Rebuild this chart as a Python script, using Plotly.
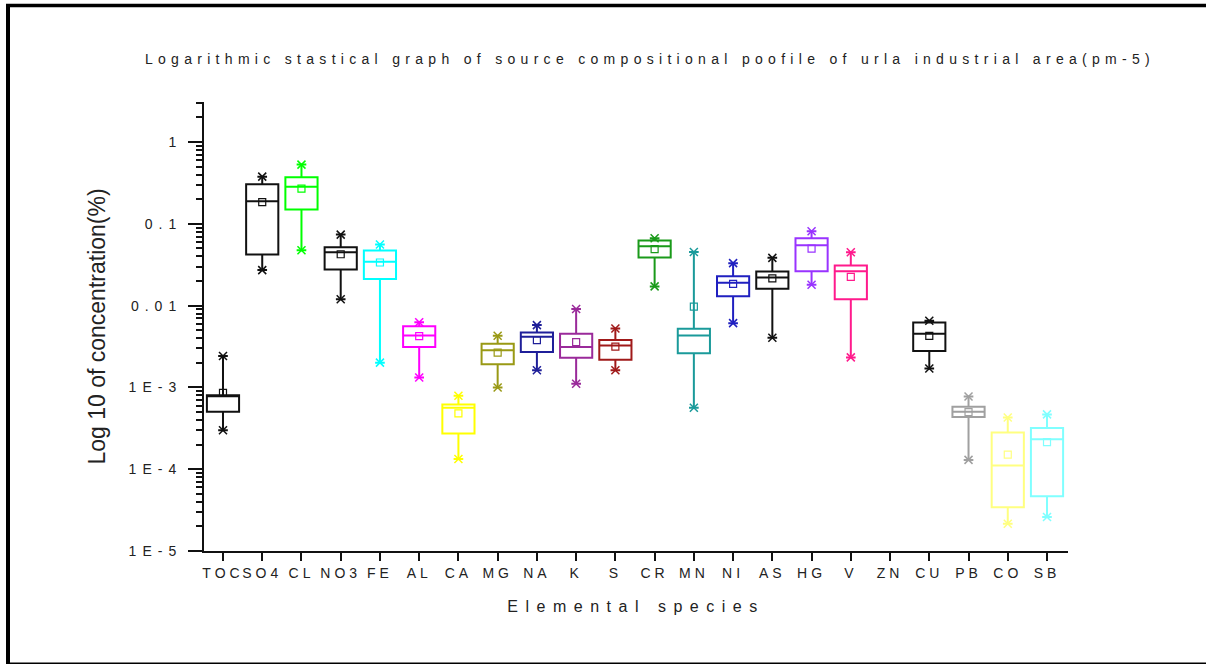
import plotly.graph_objects as go

# ---------------- data ----------------
categories = ["TOC", "SO4", "CL", "NO3", "FE", "AL", "CA", "MG", "NA", "K", "S",
              "CR", "MN", "NI", "AS", "HG", "V", "ZN", "CU", "PB", "CO", "SB"]
tick_labels = ["TOC", "SO4", "CL", "NO3", "FE", "AL", "CA", "MG", "NA", "K", "S",
               "CR", "MN", "NI", "AS", "HG", "V", "ZN", "CU", "PB", "CO", "SB"]

upper = [2.42e-3, 0.378, 0.530, 0.0739, 0.0558, 6.28e-3, 7.9e-4, 4.28e-3, 5.78e-3, 9.12e-3, 5.25e-3,
         0.0667, 0.0454, 0.0331, 0.0384, 0.0810, 0.0450, None, 6.52e-3, 7.75e-4, 4.30e-4, 4.68e-4]
q3 = [8.0e-4, 0.305, 0.371, 0.0518, 0.0472, 5.61e-3, 6.19e-4, 3.42e-3, 4.70e-3, 4.53e-3, 3.79e-3,
      0.0625, 5.21e-3, 0.0228, 0.0262, 0.0667, 0.0310, None, 6.21e-3, 5.81e-4, 2.81e-4, 3.19e-4]
median = [8.0e-4, 0.189, 0.284, 0.0450, 0.0343, 4.31e-3, 5.65e-4, 2.84e-3, 4.16e-3, 3.12e-3, 3.26e-3,
          0.0533, 4.31e-3, 0.0191, 0.0221, 0.0548, 0.0264, None, 4.53e-3, 5.05e-4, 1.11e-4, 2.32e-4]
mean = [8.6e-4, 0.184, 0.270, 0.0425, 0.0337, 4.24e-3, 4.81e-4, 2.66e-3, 3.79e-3, 3.59e-3, 3.15e-3,
        0.0490, 9.72e-3, 0.0185, 0.0215, 0.0499, 0.0225, None, 4.28e-3, 4.99e-4, 1.51e-4, 2.15e-4]
q1 = [5.05e-4, 0.0422, 0.150, 0.0277, 0.0211, 3.12e-3, 2.73e-4, 1.92e-3, 2.71e-3, 2.31e-3, 2.18e-3,
      0.0388, 2.61e-3, 0.0130, 0.0161, 0.0264, 0.0120, None, 2.79e-3, 4.34e-4, 3.43e-5, 4.67e-5]
lower = [3.0e-4, 0.0272, 0.0476, 0.0120, 2.01e-3, 1.32e-3, 1.33e-4, 1.00e-3, 1.62e-3, 1.11e-3, 1.62e-3,
         0.0172, 5.65e-4, 6.11e-3, 4.05e-3, 0.0180, 2.33e-3, None, 1.70e-3, 1.30e-4, 2.15e-5, 2.61e-5]

colors = ["#111111", "#111111", "#00ff00", "#111111", "#00ffff", "#ff00ff", "#ffff00", "#999915",
          "#1f1f99", "#9a2a9a", "#a01a1a", "#1a9a1a", "#1a9a9a", "#2020c0", "#111111", "#9933ff",
          "#ff1a8c", "#111111", "#111111", "#a0a0a0", "#ffff80", "#80ffff"]

y_tickvals = [1e-5, 1e-4, 1e-3, 1e-2, 1e-1, 1]
y_ticktext = ["1E-5", "1E-4", "1E-3", "0.01", "0.1", "1"]

# ---------------- layout geometry ----------------
W, H = 1206, 664
L, R, T, B = 204, 138, 102, 113
PW, PH = W - L - R, H - T - B


def px(x):
    return (x - L) / PW


def py(y):
    return (H - B - y) / PH


FONT = "Liberation Sans, Arial, sans-serif"

fig = go.Figure()

for i, c in enumerate(categories):
    if q1[i] is None:
        continue
    col = colors[i]
    fig.add_trace(go.Box(
        x=[c], q1=[q1[i]], median=[median[i]], q3=[q3[i]],
        lowerfence=[lower[i]], upperfence=[upper[i]],
        line=dict(color=col, width=2), fillcolor="rgba(0,0,0,0)",
        whiskerwidth=0.3, width=0.82, showlegend=False, hoverinfo="skip",
        boxpoints=False,
    ))
    fig.add_trace(go.Scatter(
        x=[c, c], y=[lower[i], upper[i]], mode="markers",
        marker=dict(symbol="x-thin", size=8, line=dict(color=col, width=1.5), color=col),
        showlegend=False, hoverinfo="skip",
    ))
    fig.add_trace(go.Scatter(
        x=[c], y=[mean[i]], mode="markers",
        marker=dict(symbol="square-open", size=7, line=dict(color=col, width=1.2), color=col),
        showlegend=False, hoverinfo="skip",
    ))

minor_vals = [m * 10 ** e for e in range(-5, 1) for m in range(2, 10)]

fig.update_layout(
    width=W, height=H,
    margin=dict(l=L, r=R, t=T, b=B, pad=0),
    paper_bgcolor="white", plot_bgcolor="white",
    font=dict(family=FONT, color="#222222"),
    boxmode="overlay",
    title=dict(
        text="Logarithmic stastical graph of source compositional poofile of urla industrial area(pm-5)",
        x=650 / W, xref="container", xanchor="center",
        y=1 - 59 / H, yref="container", yanchor="middle",
        font=dict(size=14, color="#222222", family=FONT),
    ),
    xaxis=dict(
        type="category", categoryorder="array", categoryarray=categories,
        tickmode="array", tickvals=categories, ticktext=tick_labels,
        range=[-0.484, 21.535], tickangle=0,
        showline=True, linecolor="#111111", linewidth=2,
        ticks="outside", ticklen=8, tickwidth=2, tickcolor="#111111",
        showgrid=False, zeroline=False,
        tickfont=dict(size=14, color="#222222", family=FONT),
        title=dict(text="Elemental species", standoff=21,
                   font=dict(size=16, color="#222222", family=FONT)),
    ),
    yaxis=dict(
        type="log", range=[-5, 0.49],
        tickmode="array", tickvals=y_tickvals, ticktext=y_ticktext,
        showline=True, linecolor="#111111", linewidth=2,
        ticks="outside", ticklen=14, tickwidth=2, tickcolor="#111111",
        ticklabelstandoff=3,
        minor=dict(tickmode="array", tickvals=minor_vals, ticks="outside",
                   ticklen=6, tickwidth=1.5, tickcolor="#111111", showgrid=False),
        showgrid=False, zeroline=False,
        tickfont=dict(size=14, color="#222222", family=FONT),
        title=dict(text="Log 10 of concentration(%)", standoff=41,
                   font=dict(size=23, color="#222222", family=FONT)),
    ),
    shapes=[
        dict(type="line", xref="paper", yref="paper", x0=px(6), x1=px(1206), y0=py(5.5), y1=py(5.5),
             line=dict(color="black", width=3.5)),
        dict(type="line", xref="paper", yref="paper", x0=px(8), x1=px(8), y0=py(4), y1=py(664),
             line=dict(color="black", width=4)),
        dict(type="line", xref="paper", yref="paper", x0=px(8), x1=px(1206), y0=py(663.3), y1=py(663.3),
             line=dict(color="black", width=1.5)),
    ],
)

post = """
var css = "html,body{margin:0 !important;padding:0 !important;}" +
          ".xtick text{letter-spacing:4px;}" +
          ".ytick text{letter-spacing:6px;}" +
          ".gtitle{letter-spacing:5.3px;}" +
          ".xtitle{letter-spacing:7.5px;}";
var st = document.createElement('style');
st.textContent = css;
document.head.appendChild(st);
var gd = document.getElementById('{plot_id}');
return Plotly.newPlot(gd, gd.data, gd.layout, {displayModeBar: false});
"""

fig.write_html("out.html", post_script=post, config={"displayModeBar": False})
